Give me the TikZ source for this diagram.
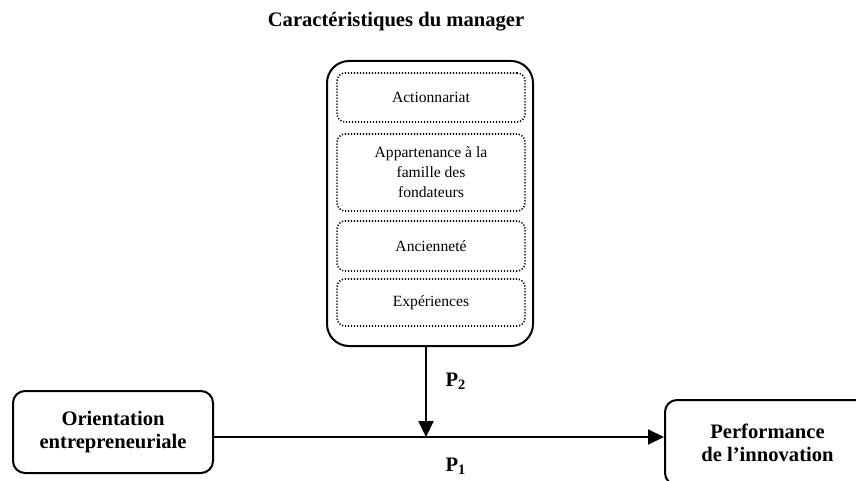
\documentclass[tikz,border=0pt]{standalone}
\usepackage{fontspec}
\setmainfont{Liberation Serif}
\usetikzlibrary{arrows.meta,positioning}

\begin{document}
\begin{tikzpicture}[x=0.5pt,y=-0.5pt,>={Triangle[length=8pt,width=7.5pt]},
  bigbox/.style={draw,line width=1pt,rounded corners=6pt,align=center,inner sep=0pt,
    font=\fontsize{10.3}{11.5}\selectfont\bfseries},
  itembox/.style={draw,line width=0.8pt,dash pattern=on 0.6pt off 0.9pt,rounded corners=4pt,
    minimum width=94pt,inner sep=0pt,align=center,font=\fontsize{7.8}{10}\selectfont},
  plabel/.style={font=\fontsize{10.3}{12}\selectfont\bfseries}]
 \clip (0,0) rectangle (856,481);
 % title
 \node[font=\fontsize{10.3}{12}\selectfont\bfseries] (titre) at (396,22) {Caractéristiques du manager};
 % manager box with its items
 \node[draw,line width=1pt,rounded corners=11pt,minimum width=103pt,minimum height=142.5pt,inner sep=0pt]
   (mgr) at (430,203.5) {};
 \node[itembox,minimum height=24.5pt] (act) at (431,97.5) {Actionnariat};
 \node[itembox,minimum height=38.5pt] (fam) at (431,172.5) {Appartenance à la\\famille des\\fondateurs};
 \node[itembox,minimum height=25pt] (anc) at (431,246) {Ancienneté};
 \node[itembox,minimum height=23.5pt] (exp) at (431,302.5) {Expériences};
 % left and right boxes
 \node[bigbox,minimum width=100pt,minimum height=41pt] (oe) at (113,432) {Orientation\\entrepreneuriale};
 \node[bigbox,minimum width=102.5pt,minimum height=42.5pt] (pi) at (767.5,442.5) {Performance\\de l'innovation};
 % links
 \coordinate (j) at (426,437);
 \draw[line width=1pt] (oe.east |- j) -- (j);
 \draw[line width=1pt,->] (j) -- (j -| pi.west);
 \draw[line width=1pt,->] (mgr.south -| j) -- (j);
 \node[plabel] (p2) at (456,381) {P\textsubscript{2}};
 \node[plabel] (p1) at (456,466) {P\textsubscript{1}};
\end{tikzpicture}
\end{document}
